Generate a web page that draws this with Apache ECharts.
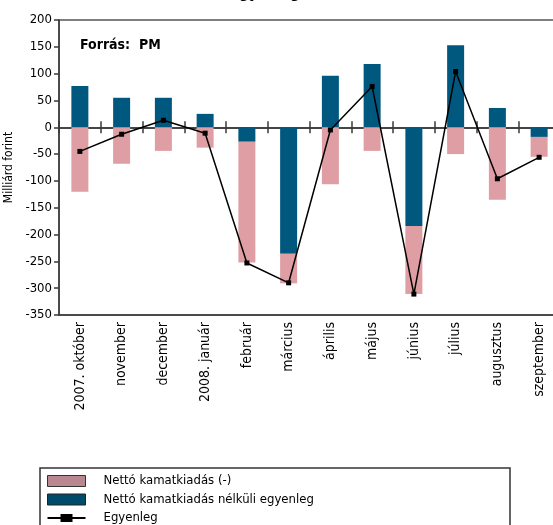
<!DOCTYPE html>
<html>
<head>
<meta charset="utf-8">
<script src="https://cdn.jsdelivr.net/npm/echarts@6/dist/echarts.min.js"></script>
<style>
html,body{margin:0;padding:0;background:#fff;overflow:hidden;}
#chart{width:560px;height:525px;}
</style>
</head>
<body>
<div id="chart"></div>
<script>
const categories = ['2007. október','november','december','2008. január','február','március','április','május','június','július','augusztus','szeptember'];
const primaryBalance = [77, 55, 55, 25, -27, -236, 96, 118, -184, 153, 36, -18];
const netInterest = [-120, -68, -44, -38, -225, -55, -106, -44, -127, -50, -135, -37];
const balance = [-45, -13, 13, -11, -253, -290, -5, 76, -311, 104, -96, -56];
const yTicks = {min: -350, max: 200, interval: 50};

const FONT = '"Liberation Sans Narrow", "DejaVu Sans Condensed", "Liberation Sans", sans-serif';
const NAME_INTEREST = 'Nettó kamatkiadás (-)';
const NAME_PRIMARY = 'Nettó kamatkiadás nélküli egyenleg';
const NAME_BALANCE = 'Egyenleg';

const chart = echarts.init(document.getElementById('chart'), null, {renderer: 'canvas'});
const axisColor = '#3a3a3a';
const option = {
  backgroundColor: '#fff',
  animation: false,
  textStyle: {fontFamily: FONT, color: '#000'},
  grid: {left: 59, right: 0, top: 20, height: 295, show: true, borderColor: '#555', borderWidth: 1.5, containLabel: false, outerBoundsMode: 'none'},
  graphic: [
    {type: 'text', left: 230, top: -13, style: {text: 'Egyenleg', font: 'bold 15px ' + FONT, fill: '#000'}},
    {type: 'text', left: 80, top: 38, style: {text: 'Forrás:  PM', font: 'bold 14px ' + FONT, fill: '#000'}},
    {type: 'rect', shape: {x: 40, y: 468, width: 470, height: 80}, style: {fill: 'none', stroke: '#333', lineWidth: 1.5}}
  ],
  legend: {
    orient: 'vertical', left: 47, top: 474.5, height: 120, itemWidth: 38, itemHeight: 11, itemGap: 5.5,
    padding: 0,
    textStyle: {fontFamily: FONT, fontSize: 13, color: '#000', padding: [0, 0, 0, 13]},
    data: [
      {name: NAME_INTEREST, icon: 'rect', itemStyle: {color: '#b9878f', borderColor: '#333', borderWidth: 1}},
      {name: NAME_PRIMARY, icon: 'rect', itemStyle: {color: '#004a6a', borderColor: '#222', borderWidth: 1}},
      {name: NAME_BALANCE, icon: 'path://M0,3h13v-3h12v3h13v2h-13v3h-12v-3h-13z', itemStyle: {color: '#000'}}
    ]
  },
  xAxis: [
    {
      type: 'category', data: categories, position: 'bottom',
      axisLine: {onZero: false, lineStyle: {color: axisColor, width: 1.5}},
      axisTick: {show: false},
      axisLabel: {rotate: 90, fontSize: 14, margin: 7, color: '#000', fontFamily: FONT, interval: 0}
    },
    {
      type: 'category', data: categories, position: 'bottom',
      axisLine: {onZero: true, onZeroAxisIndex: 0, lineStyle: {color: axisColor, width: 1.5}},
      axisTick: {show: true, interval: 0, inside: false, length: 6, lineStyle: {color: axisColor, width: 1.5}},
      axisLabel: {show: false, interval: 0}
    },
    {
      type: 'category', data: categories, position: 'bottom',
      axisLine: {onZero: true, onZeroAxisIndex: 0, lineStyle: {color: axisColor, width: 1.5}},
      axisTick: {show: true, interval: 0, inside: true, length: 6, lineStyle: {color: axisColor, width: 1.5}},
      axisLabel: {show: false, interval: 0}
    }
  ],
  yAxis: {
    type: 'value', min: yTicks.min, max: yTicks.max, interval: yTicks.interval,
    name: 'Milliárd forint', nameLocation: 'middle', nameGap: 33, nameRotate: 90,
    nameTextStyle: {fontSize: 12, color: '#000', fontFamily: FONT},
    axisLine: {show: true, lineStyle: {color: axisColor, width: 1.5}},
    axisTick: {show: true, length: 5, lineStyle: {color: axisColor, width: 1.5}},
    axisLabel: {fontSize: 13, color: '#000', margin: 7, fontFamily: FONT},
    splitLine: {show: false}
  },
  series: [
    {name: NAME_PRIMARY, type: 'bar', stack: 'total', data: primaryBalance, barWidth: 17, itemStyle: {color: '#00587f'}},
    {name: NAME_INTEREST, type: 'bar', stack: 'total', data: netInterest, barWidth: 17, itemStyle: {color: '#df9ea3'}},
    {name: NAME_BALANCE, type: 'line', data: balance, symbol: 'rect', symbolSize: 5,
     lineStyle: {color: '#000', width: 1.5}, itemStyle: {color: '#000'}, z: 5}
  ]
};
chart.setOption(option);
</script>
</body>
</html>
